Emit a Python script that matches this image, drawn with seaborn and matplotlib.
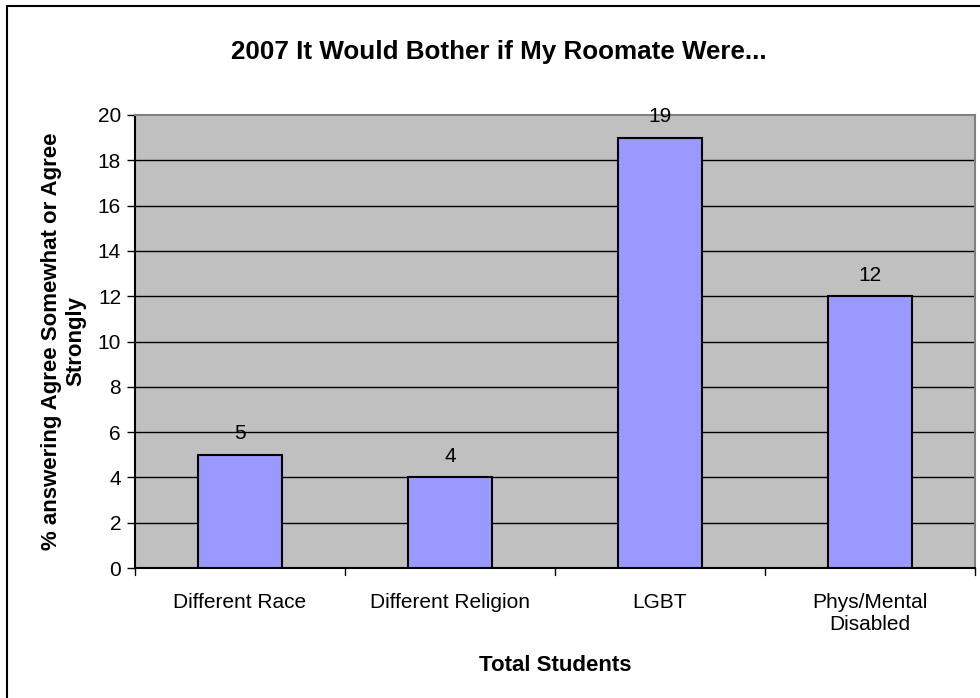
import matplotlib
matplotlib.use("Agg")
import matplotlib.pyplot as plt
import matplotlib.patches as mpatches
import seaborn as sns
import pandas as pd

categories = ["Different Race", "Different Religion", "LGBT", "Phys/Mental\nDisabled"]
values = [5, 4, 19, 12]
y_ticks = [0, 2, 4, 6, 8, 10, 12, 14, 16, 18, 20]

title = "2007 It Would Bother if My Roomate Were..."
x_label = "Total Students"
y_label = "% answering Agree Somewhat or Agree\nStrongly"

sns.set_theme(style="white")
plt.rcParams["font.family"] = ["Liberation Sans", "DejaVu Sans"]
plt.rcParams["text.color"] = "black"
plt.rcParams["axes.labelcolor"] = "black"
plt.rcParams["xtick.color"] = "black"
plt.rcParams["ytick.color"] = "black"

df = pd.DataFrame({"category": categories, "value": values})

fig = plt.figure(figsize=(9.8, 6.98), dpi=100)
ax = fig.add_axes([135 / 980, 1 - 568 / 698, (975 - 135) / 980, (568 - 115) / 698])
ax.set_facecolor("#C0C0C0")

sns.barplot(data=df, x="category", y="value", ax=ax, color="#9999FF",
            width=0.4, edgecolor="black", linewidth=1.5, saturation=1, zorder=3)

ax.set_ylim(0, 20)
ax.set_xlim(-0.5, len(categories) - 0.5)
ax.set_yticks(y_ticks)
ax.set_yticklabels([str(t) for t in y_ticks], fontsize=15, color="black")
ax.set_xticks(range(len(categories)))
ax.set_xticklabels(categories, fontsize=15, color="black", linespacing=1.2)
ax.tick_params(axis="x", length=0, pad=18)
ax.tick_params(axis="y", length=6, width=1, color="black", direction="out", pad=4, left=True)

# horizontal gridlines
for t in y_ticks[1:-1]:
    ax.axhline(t, color="black", linewidth=1, zorder=1)

# category boundary ticks along the x axis
for b in [i - 0.5 for i in range(len(categories) + 1)]:
    ax.plot([b, b], [0, -0.3], color="black", linewidth=1, clip_on=False, zorder=5)

for side in ["left", "bottom"]:
    ax.spines[side].set_color("black")
    ax.spines[side].set_linewidth(1.5)
for side in ["top", "right"]:
    ax.spines[side].set_color("#808080")
    ax.spines[side].set_linewidth(1.5)

for i, v in enumerate(values):
    ax.text(i, v + 0.5, str(v), ha="center", va="bottom", fontsize=15, color="black")

ax.set_xlabel(x_label, fontsize=16, fontweight="bold", labelpad=15, color="black")
ax.set_ylabel(y_label, fontsize=16, fontweight="bold", labelpad=8, color="black",
              linespacing=1.2)

fig.text(499 / 980, 1 - 52 / 698, title, ha="center", va="center",
         fontsize=18.7, fontweight="bold", color="black")

# chart border, running past the right and bottom edges
fig.patches.append(mpatches.Rectangle((7 / 980, -0.05), 1.1, 1 - 6 / 698 + 0.05,
                                      transform=fig.transFigure, fill=False,
                                      edgecolor="black", linewidth=1.5))

fig.savefig("out.png", dpi=100)
